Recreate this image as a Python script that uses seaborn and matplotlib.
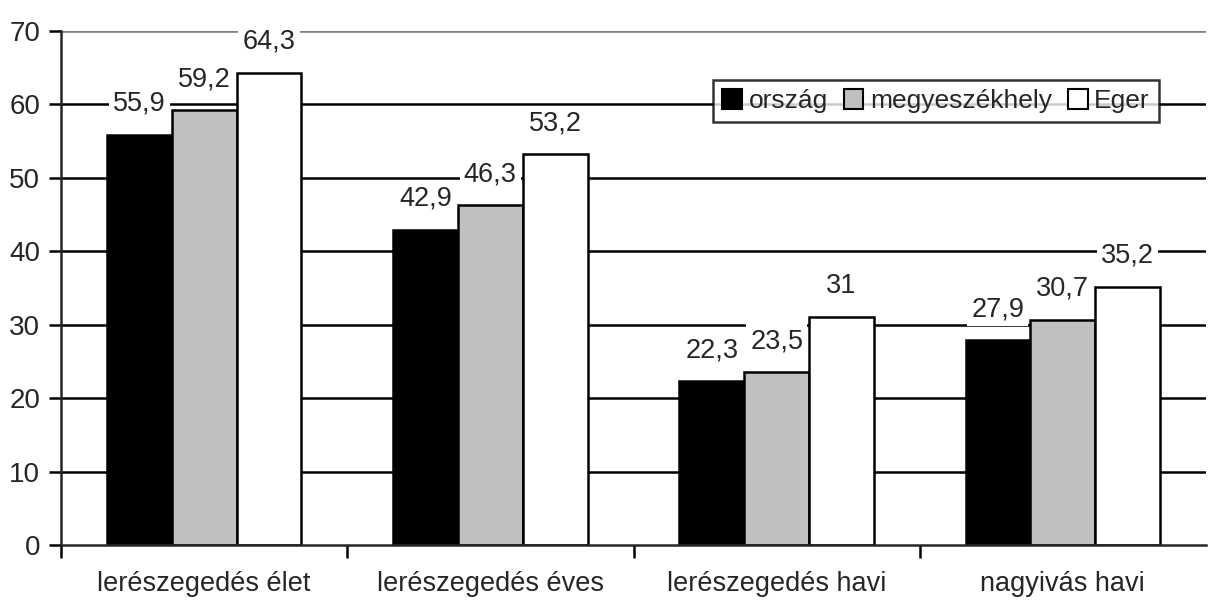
import numpy as np
import pandas as pd
import matplotlib
matplotlib.use("Agg")
import matplotlib.pyplot as plt
import seaborn as sns
from matplotlib.patches import Patch

categories = ["lerészegedés élet", "lerészegedés éves", "lerészegedés havi", "nagyivás havi"]
series = ["ország", "megyeszékhely", "Eger"]
orszag = [55.9, 42.9, 22.3, 27.9]
megyeszekhely = [59.2, 46.3, 23.5, 30.7]
eger = [64.3, 53.2, 31.0, 35.2]
colors = ["#000000", "#c0c0c0", "#ffffff"]

sns.set_style("white")
plt.rcParams['font.family'] = ['Liberation Sans Narrow', 'Liberation Sans', 'DejaVu Sans']

df = pd.DataFrame({
    "cat": categories * 3,
    "series": [series[0]] * 4 + [series[1]] * 4 + [series[2]] * 4,
    "value": orszag + megyeszekhely + eger,
})

fig = plt.figure(figsize=(12.08, 6.01), dpi=100)
ax = fig.add_axes([61 / 1208, 1 - 545 / 601, (1206 - 61) / 1208, (545 - 31) / 601])

sns.barplot(data=df, x="cat", y="value", hue="series", order=categories,
            hue_order=series, palette=colors, edgecolor="black", linewidth=1.8,
            width=0.68, ax=ax, legend=False, zorder=3)

ax.set_xlim(-0.5, 3.5)
ax.set_ylim(0, 70)
ax.set_yticks(range(0, 71, 10))
for y in range(10, 70, 10):
    ax.axhline(y, color="black", lw=1.8, zorder=1)
ax.axhline(70, color="#808080", lw=2.6, zorder=1)

for s in ["top", "right"]:
    ax.spines[s].set_visible(False)
ax.spines["left"].set_linewidth(1.8)
ax.spines["bottom"].set_linewidth(1.8)
ax.spines["left"].set_zorder(4)
ax.spines["bottom"].set_zorder(4)

ax.set_xticks([-0.5, 0.5, 1.5, 2.5])
ax.set_xticklabels([])
ax.set_xticks(range(len(categories)), minor=True)
ax.set_xticklabels(categories, minor=True, fontsize=19.5)
ax.tick_params(axis="x", which="major", direction="out", length=9, width=1.8, color="black", bottom=True)
ax.tick_params(axis="x", which="minor", length=0, pad=19)
ax.tick_params(axis="y", direction="out", length=9, width=1.8, color="black", left=True, labelsize=20, pad=6)
ax.set_xlabel("")
ax.set_ylabel("")

for cont in ax.containers:
    for bar in cont:
        h = bar.get_height()
        lab = f"{h:g}".replace(".", ",")
        ax.annotate(lab, (bar.get_x() + bar.get_width() / 2, h), xytext=(0, 31),
                    textcoords="offset pixels",
                    ha="center", va="center", fontsize=19.5, zorder=5,
                    bbox=dict(boxstyle="square,pad=0.15", fc="white", ec="none"))

handles = [Patch(facecolor=c, edgecolor="black", linewidth=1.5) for c in colors]
leg = ax.legend(handles, series, loc="upper left", bbox_to_anchor=((713 - 61) / 1145, (545 - 80) / 514),
                frameon=True, fancybox=False, edgecolor="black", fontsize=19, ncol=3,
                handlelength=0.75, handleheight=0.75, handletextpad=0.25, columnspacing=0.6,
                borderpad=0.35, borderaxespad=0)
leg.get_frame().set_linewidth(1.8)
leg.set_zorder(6)

fig.savefig("out.png", dpi=100, facecolor="white")
